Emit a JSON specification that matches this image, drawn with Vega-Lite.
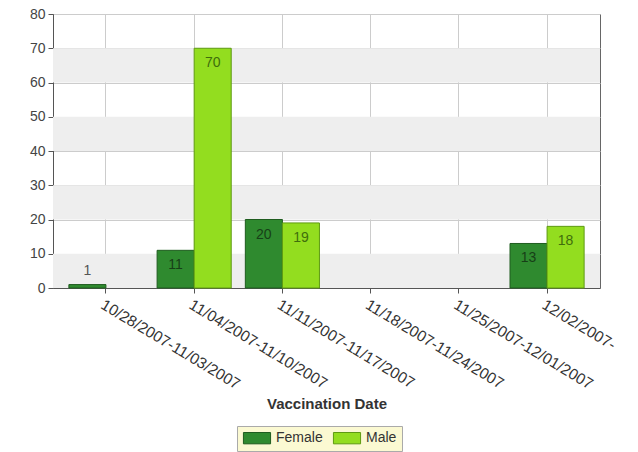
{
  "$schema": "https://vega.github.io/schema/vega-lite/v6.json",
  "autosize": "none",
  "width": 547,
  "height": 274,
  "padding": {"left": 53, "top": 14, "right": 38, "bottom": 164},
  "background": "white",
  "config": {
    "font": "Liberation Sans",
    "view": {"stroke": "#666", "strokeWidth": 1}
  },
  "datasets": {
    "counts": [
      {"week": "10/28/2007-11/03/2007", "sex": "Female", "count": 1},
      {"week": "11/04/2007-11/10/2007", "sex": "Female", "count": 11},
      {"week": "11/04/2007-11/10/2007", "sex": "Male", "count": 70},
      {"week": "11/11/2007-11/17/2007", "sex": "Female", "count": 20},
      {"week": "11/11/2007-11/17/2007", "sex": "Male", "count": 19},
      {"week": "12/02/2007-", "sex": "Female", "count": 13},
      {"week": "12/02/2007-", "sex": "Male", "count": 18}
    ],
    "bands": [
      {"lo": 0, "hi": 10},
      {"lo": 20, "hi": 30},
      {"lo": 40, "hi": 50},
      {"lo": 60, "hi": 70}
    ]
  },
  "layer": [
    {
      "data": {"name": "bands"},
      "mark": {"type": "rect", "fill": "#eeeeee"},
      "encoding": {
        "y": {
          "field": "lo", "type": "quantitative", "scale": {"domain": [0, 80]},
          "axis": {
            "title": null, "values": [0, 10, 20, 30, 40, 50, 60, 70, 80],
            "labelOverlap": false, "labelFlush": false,
            "labelFontSize": 14, "labelColor": "#444", "labelPadding": 3,
            "grid": true, "gridColor": "#cccccc",
            "domainColor": "#555", "tickColor": "#555", "tickSize": 5,
            "zindex": 0
          }
        },
        "y2": {"field": "hi"}
      }
    },
    {
      "data": {"name": "counts"},
      "encoding": {
        "x": {
          "field": "week", "type": "nominal",
          "scale": {
            "domain": ["10/28/2007-11/03/2007", "11/04/2007-11/10/2007", "11/11/2007-11/17/2007", "11/18/2007-11/24/2007", "11/25/2007-12/01/2007", "12/02/2007-"],
            "paddingInner": 0.16, "paddingOuter": 0.18
          },
          "axis": {
            "title": "Vaccination Date",
            "titleFontSize": 15, "titleFontWeight": "bold", "titleColor": "#333",
            "titleY": 115, "titleBaseline": "middle",
            "labelAngle": 31, "labelAlign": "left", "labelBaseline": "top",
            "labelFontSize": 15.5, "labelColor": "#333", "labelPadding": 4,
            "labelOverlap": false, "labelLimit": 400,
            "grid": true, "gridColor": "#cccccc",
            "domainColor": "#555", "tickColor": "#555", "tickSize": 5,
            "zindex": 0
          }
        },
        "xOffset": {"field": "sex", "type": "nominal", "scale": {"domain": ["Female", "Male"], "paddingInner": 0, "paddingOuter": 0}},
        "y": {
          "field": "count", "type": "quantitative",
          "scale": {"domain": [0, 80]},
          "axis": {
            "title": null, "values": [0, 10, 20, 30, 40, 50, 60, 70, 80],
            "labelOverlap": false, "labelFlush": false,
            "labelFontSize": 14, "labelColor": "#444", "labelPadding": 3,
            "grid": true, "gridColor": "#cccccc",
            "domainColor": "#555", "tickColor": "#555", "tickSize": 5,
            "zindex": 0
          }
        }
      },
      "layer": [
        {
          "mark": {"type": "bar", "strokeWidth": 1},
          "encoding": {
            "fill": {
              "field": "sex", "type": "nominal",
              "scale": {"domain": ["Female", "Male"], "range": ["#2f8a2f", "#93dd1f"]},
              "legend": {
                "title": null, "orient": "none", "direction": "horizontal",
                "legendX": 184, "legendY": 412,
                "fillColor": "#fbf9d2", "strokeColor": "#aaaaaa", "padding": 5,
                "symbolType": "M-2.4,-1H2.4V1H-2.4Z", "symbolSize": 128, "symbolOffset": 8,
                "symbolStrokeColor": "#222", "symbolStrokeWidth": 1, "symbolOpacity": 1,
                "labelFontSize": 14, "labelColor": "#333", "columnPadding": 8, "labelOffset": 12
              }
            },
            "stroke": {
              "field": "sex", "type": "nominal",
              "scale": {"domain": ["Female", "Male"], "range": ["#1f5c1f", "#5e9a12"]},
              "legend": null
            }
          }
        },
        {
          "transform": [{"filter": "datum.count >= 5"}],
          "mark": {"type": "text", "dy": 15, "fontSize": 14, "baseline": "middle"},
          "encoding": {
            "text": {"field": "count", "type": "quantitative"},
            "color": {
              "field": "sex", "type": "nominal",
              "scale": {"domain": ["Female", "Male"], "range": ["#173f17", "#3f6e0c"]},
              "legend": null
            }
          }
        },
        {
          "transform": [{"filter": "datum.count < 5"}],
          "mark": {"type": "text", "dy": -14, "fontSize": 14, "baseline": "middle", "color": "#555"},
          "encoding": {
            "text": {"field": "count", "type": "quantitative"}
          }
        }
      ]
    }
  ],
  "resolve": {"scale": {"color": "independent"}}
}
